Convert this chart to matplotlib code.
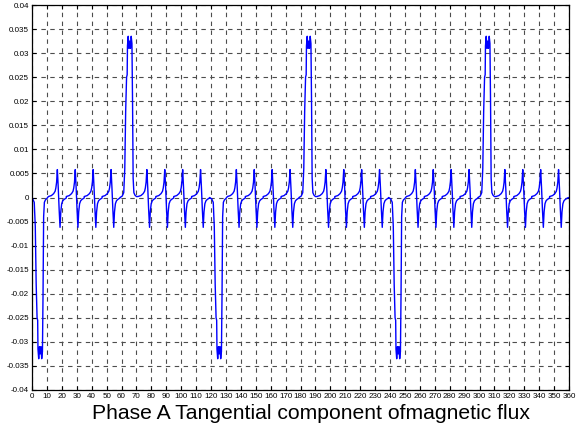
import numpy as np
import matplotlib
matplotlib.use("agg")
from matplotlib import pyplot as plt

# slot ripple around each tooth edge: offsets (deg) from the ripple peak, flux (Wb)
ripple_dx = [-6.0, -4.0, -2.5, -1.5, -1.0, -0.5, 0.0, 0.6, 1.2, 1.8, 2.3, 2.9, 3.6, 4.5, 6.0]
ripple_dy = [0.0002, 0.0004, 0.0008, 0.0013, 0.0020, 0.0032, 0.0058, 0.0020, -0.0025,
             -0.0062, -0.0030, -0.0013, -0.0007, -0.0004, -0.0001]
ripple_pos = [17, 29, 41, 53, 77, 89, 101, 113, 137, 149, 161, 173,
              197, 209, 221, 233, 257, 269, 281, 293, 317, 329, 341, 353]

# large pulses where the phase A coil sits under the pole edge
spike_dx = [-6.0, -4.5, -3.5, -2.8, -2.2, -1.6, -1.2, -1.0, -0.5, 0.0, 0.5, 1.0,
            1.5, 2.0, 2.4, 2.8, 3.3, 4.0, 5.0]
spike_dy = [0.0, 0.0003, 0.0010, 0.0060, 0.0180, 0.0250, 0.0255, 0.0315, 0.0335,
            0.0310, 0.0325, 0.0310, 0.0335, 0.0320, 0.0200, 0.0040, 0.0010, 0.0005, 0.0002]
spike_pos = [5, 65, 125, 185, 245, 305]
spike_sign = [-1, 1, -1, 1, -1, 1]

xticks = np.arange(0, 361, 10)
yticks = np.arange(-0.04, 0.0401, 0.005)

# stitch the pieces together in angle order
xs, ys = [0.0], [0.0]
pieces = [(p, 1, ripple_dx, ripple_dy) for p in ripple_pos]
pieces += [(p, s, spike_dx, spike_dy) for p, s in zip(spike_pos, spike_sign)]
for p, s, dx, dy in sorted(pieces):
    xs += [p + d for d in dx]
    ys += [s * v for v in dy]
xs.append(360.0)
ys.append(0.0)
xs = np.array(xs)
ys = np.array(ys)
keep = (xs >= 0) & (xs <= 360)
xs, ys = xs[keep], ys[keep]

plt.rcParams['font.family'] = ['Liberation Sans', 'DejaVu Sans']

fig = plt.figure(figsize=(5.79, 4.30), dpi=100)
ax = fig.add_axes([32 / 579, 40 / 430, 537 / 579, 385 / 430])

ax.plot(xs, ys, '-', color='#0000ff', lw=1.0)

ax.set_xlim(0, 360)
ax.set_ylim(-0.04, 0.04)
ax.set_xticks(xticks)
ax.set_yticks(yticks)
ax.set_yticklabels([f"{v:g}" if abs(v) > 1e-9 else "0" for v in np.round(yticks, 3)])
ax.tick_params(direction='in', length=3, width=0.8, labelsize=5.8, pad=2,
               top=True, right=True)
ax.grid(True, color='0.3', lw=0.8, linestyle=(0, (4, 4)))
for sp in ax.spines.values():
    sp.set_linewidth(0.9)

fig.text(310.5 / 579, 11 / 430, "Phase A Tangential component ofmagnetic flux",
         ha='center', va='baseline', fontsize=15.2)

fig.savefig("out.png", dpi=100)
